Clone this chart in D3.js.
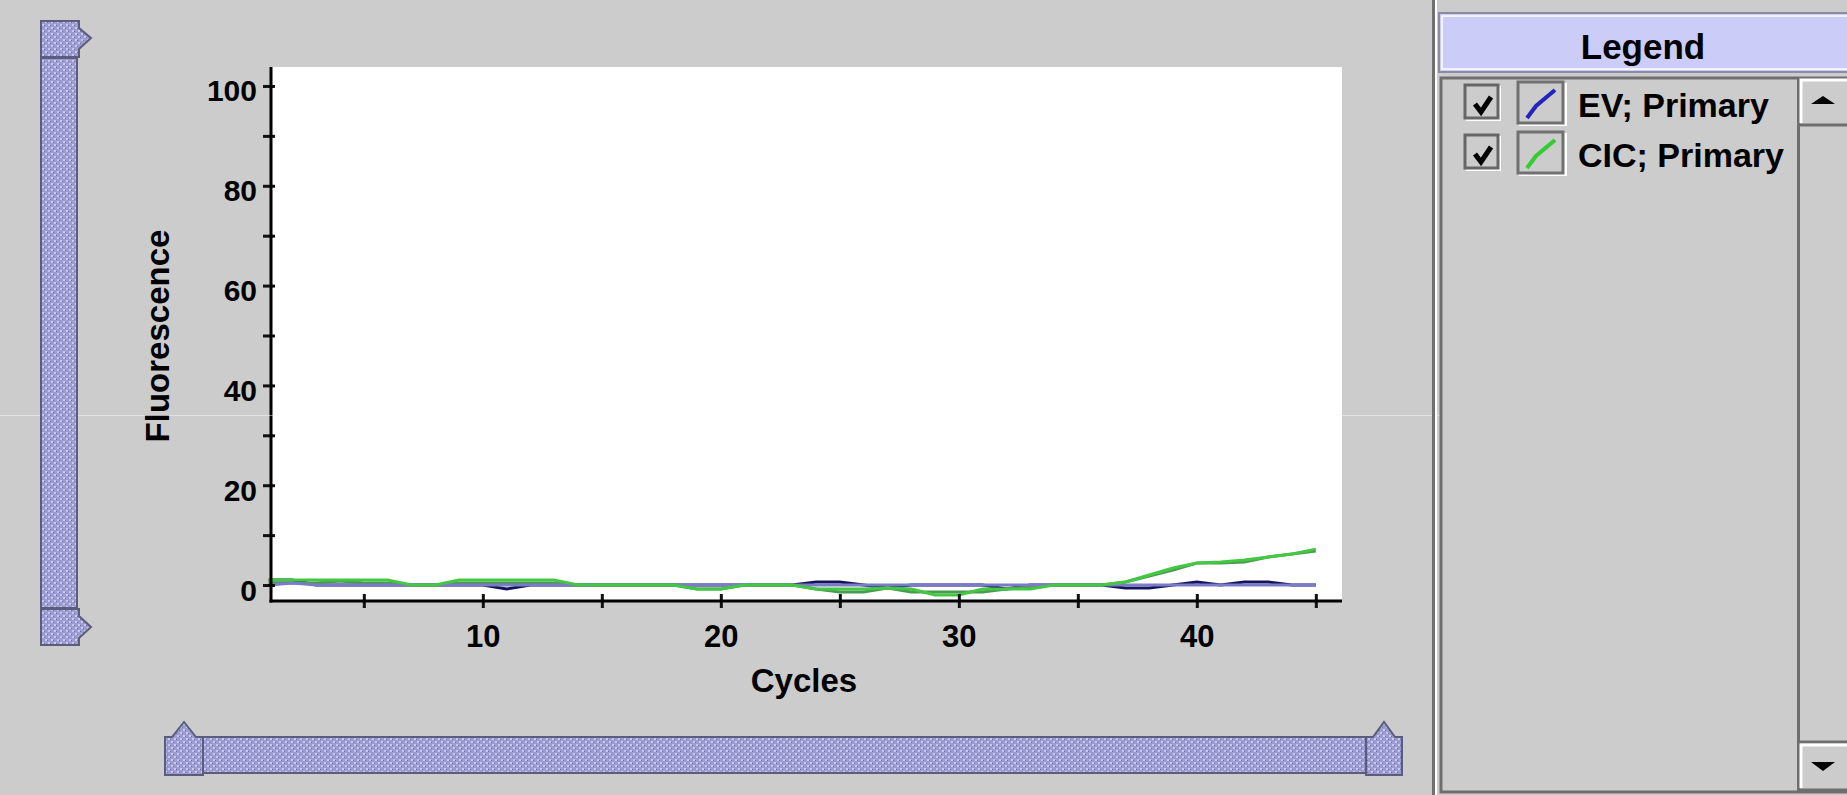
<!DOCTYPE html>
<html>
<head>
<meta charset="utf-8">
<script src="https://cdn.jsdelivr.net/npm/d3@7"></script>
<style>
  body { margin: 0; background: #cccccc; overflow: hidden; }
  svg { display: block; }
  text { font-family: "Liberation Sans", Arial, sans-serif; font-weight: bold; fill: #000; }
</style>
</head>
<body>
<script>
// cycle numbers on the x axis
var cycles = d3.range(1, 46);

// EV; Primary replicates (blue shades)
var evLight = [0, 0.4, 0, 0, 0, 0, 0, 0, 0, 0, 0, 0, 0, 0, 0, 0, 0, 0, 0, 0, 0, 0, 0, 0, 0,
               0, 0, 0, 0, 0, 0, 0, 0, 0, 0, 0, 0, 0, 0, 0, 0, 0, 0, 0, 0];
var evDark = [1, 1, 0, 0, 0, 0, 0, 0, 0, 0, -0.8, 0, 0, 0, 0, 0, 0, 0, 0, 0, 0, 0, 0, 0.6, 0.6,
              0, -0.6, 0, 0, 0, 0, -0.8, 0, 0, 0, 0, -0.6, -0.6, 0, 0.6, 0, 0.6, 0.6, 0, 0];

// CIC; Primary replicates (green shades)
var cicBright = [1, 1, 1, 1, 1, 1, 0, 0, 1, 1, 1, 1, 1, 0, 0, 0, 0, 0, -0.8, -0.8, 0, 0, 0, -0.8, -0.8,
                 -0.8, -0.6, -0.8, -2, -2, -0.8, -0.8, -0.8, 0, 0, 0, 0.6, 2, 3.4, 4.4, 4.6, 5, 5.6, 6.2, 7.2];
var cicDark = [0.4, 0.4, 0.4, 0.8, 0.4, 0.4, 0, 0, 0.4, 0.4, 0.4, 0.4, 0.4, 0, 0, 0, 0, 0, -0.8, -0.8, 0, 0, 0, -0.8, -1.4,
               -1.4, -0.6, -1.4, -1.4, -1.4, -1.4, -0.8, -0.4, 0, 0, 0, 0.6, 1.8, 3, 4.4, 4.4, 4.6, 5.6, 6.2, 6.8];

var yTicks = [0, 10, 20, 30, 40, 50, 60, 70, 80, 90, 100];
var xTicks = [5, 10, 15, 20, 25, 30, 35, 40, 45];
var legendNames = ["EV; Primary", "CIC; Primary"];
var legendColors = ["#2424c0", "#33cc33"];

// drawing order: dark EV first so the lighter traces show on top near zero
var series = [
  { values: evDark, color: "#14145a" },
  { values: cicDark, color: "#4a9a50" },
  { values: evLight, color: "#7b7bc8" },
  { values: cicBright, color: "#44c844" }
];

var W = 1847, H = 795;
var svg = d3.select("body").append("svg").attr("width", W).attr("height", H);

// dotted texture of the old slider widgets
var defs = svg.append("defs");
var pat = defs.append("pattern").attr("id", "dots")
  .attr("width", 6).attr("height", 6).attr("patternUnits", "userSpaceOnUse");
pat.append("rect").attr("width", 6).attr("height", 6).attr("fill", "#9c9cd0");
pat.append("rect").attr("x", 0).attr("y", 0).attr("width", 2).attr("height", 2).attr("fill", "#c8c8f2");
pat.append("rect").attr("x", 3).attr("y", 3).attr("width", 2).attr("height", 2).attr("fill", "#c8c8f2");
pat.append("rect").attr("x", 2).attr("y", 1).attr("width", 1).attr("height", 1).attr("fill", "#6c6ca8");
pat.append("rect").attr("x", 5).attr("y", 4).attr("width", 1).attr("height", 1).attr("fill", "#6c6ca8");

svg.append("rect").attr("width", W).attr("height", H).attr("fill", "#cccccc");

// plot area
var plotLeft = 271, plotRight = 1342, plotTop = 67, plotBottom = 601;
var x = d3.scaleLinear().domain([1.1, 46.1]).range([plotLeft, plotRight]);
var y = d3.scaleLinear().domain([-3.2, 103.8]).range([plotBottom, plotTop]);

svg.append("rect").attr("x", plotLeft).attr("y", plotTop)
  .attr("width", plotRight - plotLeft).attr("height", plotBottom - plotTop).attr("fill", "#ffffff");

var line = d3.line()
  .x(function(d, i) { return x(cycles[i]); })
  .y(function(d) { return y(d); });

svg.append("g").selectAll("path")
  .data(series)
  .enter().append("path")
  .attr("d", function(d) { return line(d.values); })
  .attr("fill", "none")
  .attr("stroke", function(d) { return d.color; })
  .attr("stroke-width", 3);

// y axis
var yAxis = svg.append("g")
  .attr("transform", "translate(" + plotLeft + ",0)")
  .call(d3.axisLeft(y).tickValues(yTicks)
    .tickFormat(function(d) { return d % 20 === 0 ? d : ""; }));
yAxis.select(".domain").remove();
yAxis.selectAll(".tick line").attr("x1", -8).attr("x2", 4)
  .attr("stroke", "#111").attr("stroke-width", 3);
yAxis.selectAll(".tick text").attr("x", -14).attr("dy", 15)
  .style("font-size", "30px").style("font-family", "Liberation Sans, Arial, sans-serif")
  .style("font-weight", "bold").attr("fill", "#000");
svg.append("line").attr("x1", plotLeft).attr("x2", plotLeft).attr("y1", plotTop).attr("y2", plotBottom + 1.5)
  .attr("stroke", "#000").attr("stroke-width", 3);

// x axis
var xAxis = svg.append("g")
  .attr("transform", "translate(0," + plotBottom + ")")
  .call(d3.axisBottom(x).tickValues(xTicks)
    .tickFormat(function(d) { return d % 10 === 0 ? d : ""; }));
xAxis.select(".domain").remove();
xAxis.selectAll(".tick line").attr("y1", -7).attr("y2", 7)
  .attr("stroke", "#111").attr("stroke-width", 3);
xAxis.selectAll(".tick text").attr("y", 46).attr("dy", 0)
  .style("font-size", "31px").style("font-family", "Liberation Sans, Arial, sans-serif")
  .style("font-weight", "bold").attr("fill", "#000");
svg.append("line").attr("x1", plotLeft - 1.5).attr("x2", plotRight).attr("y1", plotBottom).attr("y2", plotBottom)
  .attr("stroke", "#000").attr("stroke-width", 3);

// axis titles
svg.append("text")
  .attr("transform", "translate(169,336) rotate(-90)")
  .attr("text-anchor", "middle")
  .style("font-size", "33px")
  .text("Fluorescence");
svg.append("text")
  .attr("x", 804).attr("y", 692)
  .attr("text-anchor", "middle")
  .style("font-size", "33px")
  .text("Cycles");

// faint scan line across the picture
svg.append("line").attr("x1", 0).attr("x2", W).attr("y1", 415.5).attr("y2", 415.5)
  .attr("stroke", "#ffffff").attr("stroke-opacity", 0.45).attr("stroke-width", 1);

// vertical slider on the left
var sliderStroke = "#5c5c7c";
svg.append("rect").attr("x", 41).attr("y", 58).attr("width", 36).attr("height", 550)
  .attr("fill", "url(#dots)").attr("stroke", sliderStroke).attr("stroke-width", 2);
svg.append("path").attr("d", "M41,21 H79 V28 L91,38 L79,49 V57 H41 Z")
  .attr("fill", "url(#dots)").attr("stroke", sliderStroke).attr("stroke-width", 2);
svg.append("path").attr("d", "M41,609 H79 V616 L91,627 L79,638 V645 H41 Z")
  .attr("fill", "url(#dots)").attr("stroke", sliderStroke).attr("stroke-width", 2);

// horizontal slider at the bottom
svg.append("rect").attr("x", 203).attr("y", 737).attr("width", 1163).attr("height", 36)
  .attr("fill", "url(#dots)").attr("stroke", sliderStroke).attr("stroke-width", 2);
svg.append("path").attr("d", "M165,775 V737 H172 L184,722 L196,737 H203 V775 Z")
  .attr("fill", "url(#dots)").attr("stroke", sliderStroke).attr("stroke-width", 2);
svg.append("path").attr("d", "M1366,775 V737 H1373 L1384,722 L1395,737 H1402 V775 Z")
  .attr("fill", "url(#dots)").attr("stroke", sliderStroke).attr("stroke-width", 2);

// legend panel
svg.append("rect").attr("x", 1432).attr("y", 0).attr("width", 3).attr("height", H).attr("fill", "#707070");
svg.append("rect").attr("x", 1435).attr("y", 0).attr("width", 2).attr("height", H).attr("fill", "#ffffff");

svg.append("rect").attr("x", 1439).attr("y", 13).attr("width", 410).attr("height", 59)
  .attr("fill", "#ccccf8").attr("stroke", "#8c8ca0").attr("stroke-width", 2);
svg.append("rect").attr("x", 1442).attr("y", 16).attr("width", 410).attr("height", 53)
  .attr("fill", "none").attr("stroke", "#ffffff").attr("stroke-width", 1.5);
svg.append("text").attr("x", 1643).attr("y", 59).attr("text-anchor", "middle")
  .style("font-size", "35px").text("Legend");

// list box
svg.append("rect").attr("x", 1441).attr("y", 78).attr("width", 410).attr("height", 714)
  .attr("fill", "#cccccc").attr("stroke", "#6e6e6e").attr("stroke-width", 3);

// scroll bar
svg.append("rect").attr("x", 1797).attr("y", 78).attr("width", 3).attr("height", 714).attr("fill", "#6e6e6e");
function scrollButton(y0, up) {
  svg.append("rect").attr("x", 1800).attr("y", y0).attr("width", 47).attr("height", 45).attr("fill", "#cccccc");
  svg.append("path").attr("d", "M1801," + (y0 + 44) + " V" + (y0 + 1) + " H1847")
    .attr("fill", "none").attr("stroke", "#ffffff").attr("stroke-width", 3);
  svg.append("path").attr("d", "M1800," + (y0 + 46) + " H1847")
    .attr("fill", "none").attr("stroke", "#6e6e6e").attr("stroke-width", 3);
  var cy = y0 + 22;
  var d = up ? "M1811," + (cy + 3) + " L1823," + (cy - 5) + " L1835," + (cy + 3) + " Z"
             : "M1811," + (cy - 4) + " L1823," + (cy + 5) + " L1835," + (cy - 4) + " Z";
  svg.append("path").attr("d", d).attr("fill", "#000");
}
scrollButton(79, true);
svg.append("path").attr("d", "M1800,742 H1847").attr("stroke", "#6e6e6e").attr("stroke-width", 3);
scrollButton(744, false);

// legend entries
var entry = svg.append("g").selectAll("g")
  .data(legendNames)
  .enter().append("g")
  .attr("transform", function(d, i) { return "translate(0," + (i * 50) + ")"; });

// check boxes
entry.append("rect").attr("x", 1466).attr("y", 86).attr("width", 35).attr("height", 35)
  .attr("fill", "#ffffff");
entry.append("rect").attr("x", 1465).attr("y", 85).attr("width", 33).attr("height", 33)
  .attr("fill", "#cccccc").attr("stroke", "#666666").attr("stroke-width", 3);
entry.append("path").attr("d", "M1475,104 L1481,112 L1491,97")
  .attr("fill", "none").attr("stroke", "#000").attr("stroke-width", 5);

// line swatches
entry.append("rect").attr("x", 1519).attr("y", 83).attr("width", 48).attr("height", 43)
  .attr("fill", "#ffffff");
entry.append("rect").attr("x", 1518).attr("y", 82).attr("width", 45).attr("height", 41)
  .attr("fill", "#cccccc").attr("stroke", "#707070").attr("stroke-width", 3);
entry.append("path").attr("d", "M1527,118 L1536,106 L1555,90")
  .attr("fill", "none")
  .attr("stroke", function(d, i) { return legendColors[i]; })
  .attr("stroke-width", 4);

entry.append("text").attr("x", 1578).attr("y", 117)
  .style("font-size", "34px")
  .text(function(d) { return d; });
</script>
</body>
</html>
